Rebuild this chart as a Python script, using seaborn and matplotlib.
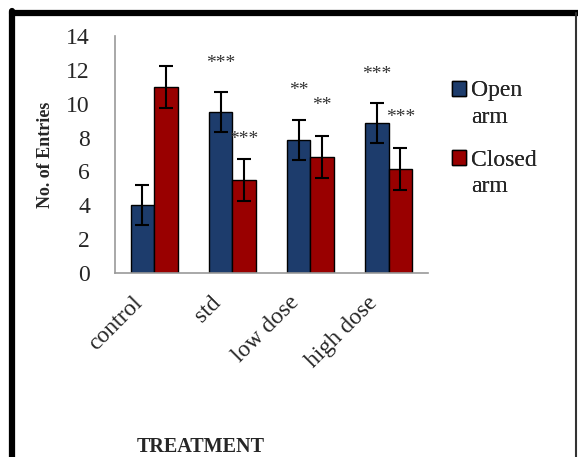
import pandas as pd
import seaborn as sns
import matplotlib.pyplot as plt
from matplotlib.lines import Line2D
from matplotlib.patches import Patch
from matplotlib.transforms import ScaledTranslation

# === Data ===
treatments = ["control", "std", "low dose", "high dose"]
open_arm = [4.0, 9.5, 7.85, 8.85]
closed_arm = [11.0, 5.5, 6.85, 6.15]
open_err = [1.2, 1.2, 1.2, 1.2]
closed_err = [1.25, 1.25, 1.22, 1.25]
open_stars = ["", "***", "**", "***"]
closed_stars = ["", "***", "**", "***"]
open_star_y = [0, 12.4, 10.8, 11.7]
closed_star_y = [0, 7.9, 9.9, 9.2]
colors = ["#1d3c6c", "#990000"]

df = pd.DataFrame({
    "treatment": treatments * 2,
    "entries": open_arm + closed_arm,
    "arm": ["Open"] * 4 + ["Closed"] * 4,
})

sns.set_style("white")
plt.rcParams["font.family"] = ["Liberation Serif", "DejaVu Serif"]

fig = plt.figure(figsize=(5.78, 4.57), dpi=100)
ax = fig.add_axes([0.199, 0.403, 0.541, 0.518])

sns.barplot(data=df, x="treatment", y="entries", hue="arm",
            palette=colors, saturation=1, width=0.6,
            edgecolor="black", linewidth=1.0, errorbar=None, ax=ax,
            legend=False)

# error bars + stars at the bar centres drawn by seaborn
for cont, errs, stars, sy in zip(ax.containers, [open_err, closed_err],
                                 [open_stars, closed_stars],
                                 [open_star_y, closed_star_y]):
    for bar, e, s, y in zip(cont.patches, errs, stars, sy):
        xc = bar.get_x() + bar.get_width() / 2
        ax.errorbar(xc, bar.get_height(), yerr=e, color="black",
                    capsize=5, elinewidth=1.5, capthick=1.5)
        if s:
            ax.text(xc, y, s, ha="center", va="center", fontsize=14,
                    color="#333333")

ax.set_ylim(0, 14)
ax.set_xlim(-0.5, 3.5)
ax.set_yticks(range(0, 15, 2))
ax.tick_params(axis="y", length=7, color="#888888", labelsize=17, pad=11)
ax.tick_params(axis="x", length=0, labelsize=17, pad=14)
shift = ScaledTranslation(-0.22, 0, fig.dpi_scale_trans)
for lab in ax.get_xticklabels():
    lab.set_rotation(45)
    lab.set_ha("right")
    lab.set_rotation_mode("anchor")
    lab.set_transform(lab.get_transform() + shift)
for side in ["top", "right"]:
    ax.spines[side].set_visible(False)
for side in ["left", "bottom"]:
    ax.spines[side].set_color("#999999")
    ax.spines[side].set_linewidth(1.2)

ax.set_xlabel("")
ax.set_ylabel("No. of Entries", fontsize=13, fontweight="bold", labelpad=9)
fig.text(0.348, 0.022, "TREATMENT", ha="center", va="center",
         fontsize=14.5, fontweight="bold")

# legend: one small legend per arm, the word "arm" on its own line
blank = Patch(facecolor="none", edgecolor="none")
for name, col, ytop in zip(["Open", "Closed"], colors, [0.824, 0.672]):
    leg = fig.legend([Patch(facecolor=col, edgecolor="black"), blank],
                     [name, "arm"], loc="upper left",
                     bbox_to_anchor=(0.782, ytop), frameon=False, fontsize=17,
                     handlelength=0.6, handleheight=0.6, handletextpad=0.2,
                     labelspacing=0.22, borderpad=0, borderaxespad=0)
    fig.add_artist(leg)

# frame around the figure
fig.add_artist(Line2D([0.0208, 0.0208], [-0.02, 0.975], color="black", lw=4.5))
fig.add_artist(Line2D([0.0208, 1.0], [0.9725, 0.9725], color="black", lw=4.5))
fig.add_artist(Line2D([0.9965, 0.9965], [-0.02, 0.9725], color="#333333", lw=1.5))

plt.savefig("out.png", dpi=100)
